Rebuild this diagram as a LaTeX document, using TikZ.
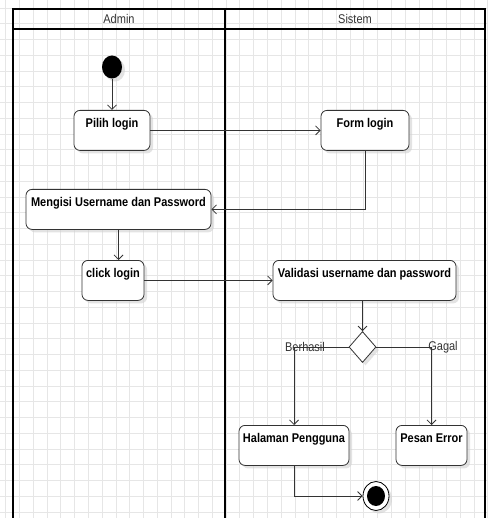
\documentclass[tikz,border=0pt]{standalone}
\usepackage{fontspec}
\usepackage{graphicx}
\setmainfont{Liberation Sans}
\usetikzlibrary{arrows.meta,shapes.geometric,shadows}

\definecolor{ink}{HTML}{333333}
\definecolor{gridline}{HTML}{E6E6E6}

% labels are set slightly taller than wide
\newcommand{\tallText}[1]{\scalebox{1}[1.15]{#1}}

\tikzset{
  softshadow/.style={drop shadow={shadow xshift=3pt, shadow yshift=-3pt, fill=black!18, opacity=0.6}},
  act/.style={draw=ink, line width=0.8pt, fill=white, rounded corners=6pt,
    inner sep=0pt, text height=17pt, text depth=23pt,
    font=\fontsize{11}{13}\selectfont\bfseries, text=black, softshadow},
  flow/.style={draw=ink, line width=0.8pt, -{Straight Barb[length=4.5pt,width=9pt]}},
  lane/.style={draw=black, line width=2pt},
  lanetitle/.style={font=\fontsize{11}{13}\selectfont, text=ink},
  guard/.style={font=\fontsize{11}{13}\selectfont, text=ink, inner sep=0pt},
  startdot/.style={ellipse, fill=black, inner sep=0pt, minimum width=20pt,
    minimum height=23pt, softshadow},
  choice/.style={diamond, draw=ink, line width=0.8pt, fill=white, inner sep=0pt,
    minimum width=27pt, minimum height=31pt, softshadow},
  enddot/.style={ellipse, draw=black, line width=0.8pt, fill=white, inner sep=0pt,
    minimum width=26pt, minimum height=29pt, softshadow},
}

\begin{document}
\begin{tikzpicture}[x=1pt, y=-1pt]
  \useasboundingbox (0,0) rectangle (488,518);
  \fill[white] (0,0) rectangle (488,518);

  % background grid
  \foreach \k in {0,...,35} {
    \draw[gridline, line width=0.6pt] ({5.7+13.77*\k},0) -- ({5.7+13.77*\k},518);
  }
  \foreach \k in {0,...,33} {
    \draw[gridline, line width=0.6pt] (0,{8+15.75*\k}) -- (488,{8+15.75*\k});
  }

  % swimlanes
  \draw[lane] (13,518) -- (13,9) -- (485,9) -- (485,518);
  \draw[lane] (13,29) -- (485,29);
  \draw[lane] (225,9) -- (225,518);
  \node[lanetitle] (laneA) at (119,19) {\tallText{Admin}};
  \node[lanetitle] (laneS) at (355,19) {\tallText{Sistem}};

  % activities
  \node[startdot] (start) at (112,67) {};
  \node[act, minimum width=76pt, anchor=north] (pilih) at (112,110) {\tallText{Pilih login}};
  \node[act, minimum width=88pt, anchor=north] (form) at (365,110) {\tallText{Form login}};
  \node[act, minimum width=185pt, anchor=north] (isi) at (118.5,189) {\tallText{Mengisi Username dan Password}};
  \node[act, minimum width=62pt, anchor=north] (klik) at (113,260) {\tallText{click login}};
  \node[act, minimum width=183pt, anchor=north] (valid) at (364.5,260) {\tallText{Validasi username dan password}};
  \node[choice] (cek) at (362.5,347) {};
  \node[act, minimum width=110pt, anchor=north] (home) at (294,425) {\tallText{Halaman Pengguna}};
  \node[act, minimum width=71pt, anchor=north] (err) at (431.5,425) {\tallText{Pesan Error}};
  \node[enddot] (stop) at (376,496) {};
  \fill[black] (stop.center) ellipse (9pt and 10pt);

  % flows
  \draw[flow] (start) -- (pilih.north);
  \draw[flow] (pilih.east) -- (form.west);
  \draw[flow] (form.south) |- (isi.east);
  \draw[flow] (isi.south) -- (isi.south |- klik.north);
  \draw[flow] (klik.east) -- (valid.west);
  \draw[flow] (cek.north |- valid.south) -- (cek.north);
  \draw[flow] (cek.west) -| (home.north);
  \draw[flow] (cek.east) -| (err.north);
  \draw[flow] (home.south) |- (stop.west);

  % guards
  \node[guard] (ok) at (305,347) {\tallText{Berhasil}};
  \node[guard] (fail) at (443,347) {\tallText{Gagal}};
\end{tikzpicture}
\end{document}
